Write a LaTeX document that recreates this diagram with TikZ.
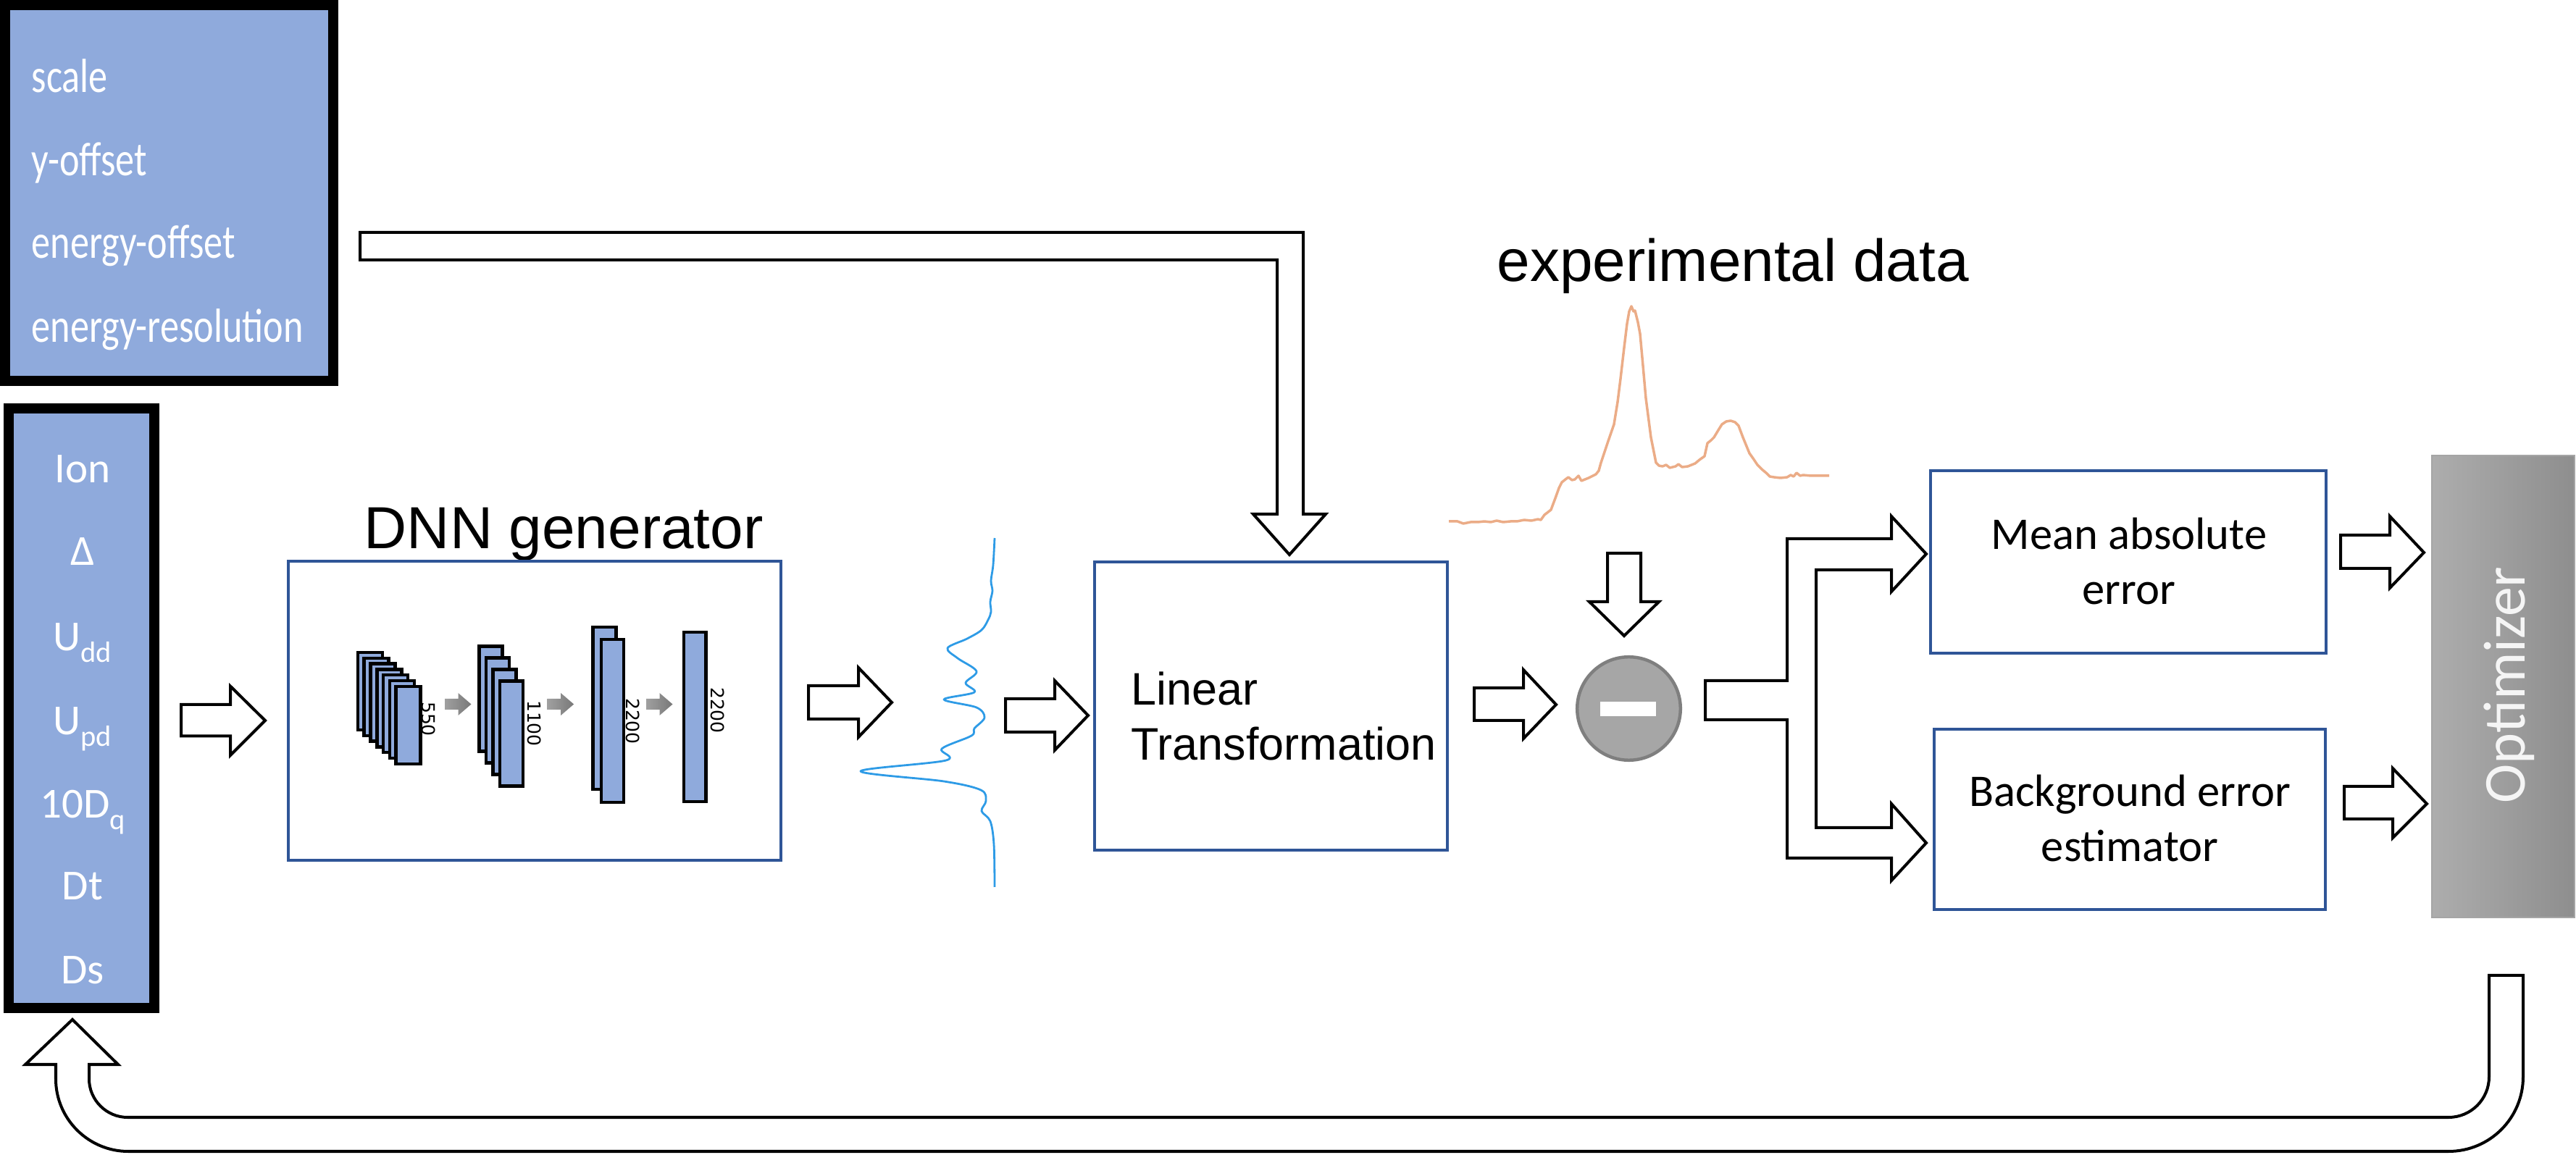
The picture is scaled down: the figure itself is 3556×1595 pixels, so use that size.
\documentclass[tikz,border=0pt]{standalone}
\usepackage{fontspec}
\usepackage{graphicx}
\setmainfont{Liberation Sans}
\newfontfamily\calib{Carlito}
\newfontfamily\dejav{DejaVu Sans}
\definecolor{boxblue}{RGB}{47,85,151}
\definecolor{layerblue}{RGB}{143,170,220}
\definecolor{paramblue}{RGB}{143,170,220}
\definecolor{specblue}{RGB}{46,155,230}
\definecolor{expor}{RGB}{235,172,135}
\definecolor{circfill}{RGB}{166,166,166}
\definecolor{circdraw}{RGB}{127,127,127}
\definecolor{optL}{RGB}{173,173,173}
\definecolor{optR}{RGB}{142,142,142}
\definecolor{optB}{RGB}{165,165,165}
\definecolor{optT}{RGB}{245,245,245}
\definecolor{garL}{RGB}{160,160,160}
\definecolor{garR}{RGB}{120,120,120}
\tikzset{
  blk/.style={draw=black, line width=0.04cm, fill=white, line join=miter},
  bluebox/.style={draw=boxblue, line width=0.045cm, inner sep=0pt},
  layer/.style={draw=black, fill=layerblue, line width=0.045cm},
  paramtxt/.style={text=white, inner sep=0pt, anchor=base west, font=\calib\fontsize{18.8pt}{22pt}\selectfont},
  leftxt/.style={text=white, inner sep=0pt, anchor=base, font=\calib\fontsize{16.8pt}{20pt}\selectfont},
  boxtxt/.style={inner sep=0pt, align=center, font=\calib\fontsize{17.8pt}{21.6pt}\selectfont},
  bigtxt/.style={inner sep=0pt, anchor=base west, font=\fontsize{23.3pt}{28pt}\selectfont},
  lintxt/.style={inner sep=0pt, anchor=base west, font=\fontsize{17.9pt}{21.6pt}\selectfont},
  laytxt/.style={inner sep=0pt, anchor=base, rotate=-90, font=\dejav\fontsize{7.1pt}{8pt}\selectfont},
  grayarrow/.style={left color=garL, right color=garR, draw=none},
}
\newcommand{\subtx}[1]{\raisebox{-0.55ex}{\fontsize{11.5pt}{12pt}\selectfont #1}}
\begin{document}
\begin{tikzpicture}[x=0.01cm,y=-0.01cm]
\useasboundingbox (0,0) rectangle (3556,1595);

% ---------- top parameter box ----------
\node[draw=black, line width=0.14cm, fill=paramblue, minimum width=4.53cm, minimum height=5.19cm, inner sep=0pt] (pbox) at (233.5,266.5) {};
\node[paramtxt] (pscale) at (43,127.5) {\scalebox{0.79}[1]{scale}};
\node[paramtxt] (pyoff) at (43,243) {\scalebox{0.79}[1]{y-offset}};
\node[paramtxt] (peoff) at (43,357) {\scalebox{0.79}[1]{energy-offset}};
\node[paramtxt] (peres) at (43,473) {\scalebox{0.79}[1]{energy-resolution}};

% ---------- left parameter box ----------
\node[draw=black, line width=0.14cm, fill=paramblue, minimum width=2.01cm, minimum height=8.28cm, inner sep=0pt] (lbox) at (112.5,978) {};
\node[leftxt] (lion) at (114,667) {Ion};
\node[leftxt] (ldel) at (114,781) {Δ};
\node[leftxt] (ludd) at (114,899) {U\subtx{dd}};
\node[leftxt] (lupd) at (114,1015) {U\subtx{pd}};
\node[leftxt] (ldq) at (114,1130) {10D\subtx{q}};
\node[leftxt] (ldt) at (114,1243) {Dt};
\node[leftxt] (lds) at (114,1359) {Ds};

% ---------- DNN generator ----------
\node[bigtxt] (dnntitle) at (502,758) {DNN generator};
\node[bluebox, minimum width=6.8cm, minimum height=4.13cm] (dnn) at (738,981.5) {};
\foreach \i in {0,...,6} \draw[layer] ({493.9+8.8*\i},{901+7.8*\i}) rectangle ++(34,107);
\foreach \i in {0,...,3} \draw[layer] ({661.4+9.5*\i},{892.7+16*\i}) rectangle ++(32,145);
\draw[layer] (818.5,866) rectangle (850.6,1090);
\draw[layer] (830,883) rectangle (861,1108);
\draw[layer] (943.8,873) rectangle (974.6,1107);
\node[laytxt] (l550) at (582,993) {550};
\node[laytxt] (l1100) at (728,999) {1100};
\node[laytxt] (l2200a) at (864,996) {2200};
\node[laytxt] (l2200b) at (981.5,981) {2200};
\foreach \x in {614,755.6,892} \shade[grayarrow] (\x,965) -- ++(18.5,0) -- ++(0,-8) -- ++(18,15.5) -- ++(-18,15.5) -- ++(0,-8) -- ++(-18.5,0) -- cycle;

% ---------- generated spectrum ----------
\draw[specblue, line width=0.028cm, line join=round] plot[smooth, tension=0.55] coordinates {
(1373,743) (1371,780) (1368,802) (1370,816) (1367,831) (1368,845) (1364,856) (1355,870)
(1335,882) (1308,895) (1322,909) (1348,927) (1333,943) (1345,956) (1303,966) (1348,977)
(1359,991) (1345,1006) (1341,1016) (1300,1034) (1306,1050) (1188,1065) (1303,1079)
(1354,1091) (1361,1106) (1355,1120) (1367,1134) (1372,1166) (1373,1225)};

% ---------- Linear transformation ----------
\node[bluebox, minimum width=4.87cm, minimum height=3.98cm] (lin) at (1754.5,975) {};
\node[lintxt] (lin1) at (1561,973.6) {Linear};
\node[lintxt] (lin2) at (1561,1050) {Transformation};

% ---------- experimental data ----------
\node[bigtxt] (exptitle) at (2066,389) {experimental data};
\draw[expor, line width=0.035cm, line join=round] plot coordinates {
(2000,720) (2012,720) (2020,723) (2030,721) (2040,721) (2049,720) (2058,721) (2066,719) (2075,721)
(2085,720) (2094,720) (2104,718) (2114,719) (2123,717) (2127,718) (2132,711) (2141,704)
(2147,688) (2152,674) (2156,666) (2161,662) (2165,659) (2170,663) (2174,662) (2179,657)
(2183,664) (2193,660) (2203,655) (2207,650) (2210,639) (2219,612) (2228,586) (2233,555)
(2237,523) (2242,480) (2246,447) (2249,430) (2252,423) (2255,430) (2257,429) (2261,445)
(2264,461) (2268,505) (2272,550) (2279,604) (2286,639) (2290,643) (2295,644) (2300,642)
(2305,646) (2313,644) (2317,641) (2322,645) (2330,644) (2340,640) (2346,635) (2353,630)
(2357,612) (2362,608) (2366,604) (2372,594) (2377,586) (2383,582) (2389,581) (2395,583)
(2400,588) (2406,604) (2415,626) (2420,633) (2426,642) (2432,648) (2438,653) (2443,658)
(2449,659) (2458,660) (2467,659) (2472,656) (2476,658) (2480,653) (2485,657) (2489,656)
(2500,657) (2525,657)};

% ---------- subtraction ----------
\node[circle, fill=circfill, draw=circdraw, line width=0.045cm, minimum size=1.425cm, inner sep=0pt] (minus) at (2248.5,978.5) {};
\fill[white] (2209,969) rectangle (2286,989);

% ---------- error boxes ----------
\node[bluebox, minimum width=5.46cm, minimum height=2.515cm] (mae) at (2938,776) {};
\node[boxtxt] (maetxt) at (2939,775) {Mean absolute\\error};
\node[bluebox, minimum width=5.394cm, minimum height=2.49cm] (bge) at (2940,1131.5) {};
\node[boxtxt] (bgetxt) at (2940,1130) {Background error\\estimator};

% ---------- optimizer ----------
\shade[left color=optL, right color=optR] (3357,629) rectangle (3554,1267);
\draw[optB, line width=0.02cm] (3357,629) rectangle (3554,1267);
\node[inner sep=0pt, anchor=base, rotate=90, text=optT, font=\calib\fontsize{23.3pt}{28pt}\selectfont] (opt) at (3485,946) {Optimizer};
\coordinate (optbox) at (3455,948);

% ---------- block arrows ----------
\draw[blk] (250,973) -- (318,973) -- (318,947.6) -- (366,995) -- (318,1043) -- (318,1016.5) -- (250,1016.5) -- cycle;
\draw[blk] (1116,947) -- (1185,947) -- (1185,922) -- (1231,970) -- (1185,1018) -- (1185,993) -- (1116,993) -- cycle;
\draw[blk] (1388,965) -- (1456,965) -- (1456,940) -- (1502,988) -- (1456,1036) -- (1456,1011) -- (1388,1011) -- cycle;
\draw[blk] (2035,950) -- (2103,950) -- (2103,925) -- (2148,973) -- (2103,1020) -- (2103,995) -- (2035,995) -- cycle;
\draw[blk] (2219,764) -- (2265,764) -- (2265,831) -- (2290,831) -- (2242,878) -- (2194,831) -- (2219,831) -- cycle;
\draw[blk] (3231,739) -- (3299,739) -- (3299,713) -- (3346,763) -- (3299,812) -- (3299,785) -- (3231,785) -- cycle;
\draw[blk] (3236,1086) -- (3303,1086) -- (3303,1061) -- (3350,1110) -- (3303,1157) -- (3303,1131) -- (3236,1131) -- cycle;
% top bent arrow (parameters -> linear transformation)
\draw[blk] (497,321) -- (1799,321) -- (1799,710) -- (1830,710) -- (1780,766) -- (1730,710) -- (1763,710) -- (1763,359) -- (497,359) -- cycle;
% split arrow (minus -> error boxes)
\draw[blk] (2354,940) -- (2467,940) -- (2467,744) -- (2611,744) -- (2611,713) -- (2659,765) -- (2611,817) -- (2611,787) -- (2507,787) -- (2507,1143) -- (2611,1143) -- (2611,1110) -- (2659,1164) -- (2611,1216) -- (2611,1185) -- (2467,1185) -- (2467,994) -- (2354,994) -- cycle;
% feedback U arrow (optimizer -> parameters)
\draw[blk] (100,1408) -- (163,1470) -- (123,1470) -- (123,1490)
  .. controls (123,1519) and (147,1543) .. (176,1543) -- (3380,1543)
  .. controls (3411,1543) and (3436,1518) .. (3436,1487) -- (3436,1347) -- (3483,1347) -- (3483,1487)
  .. controls (3483,1544) and (3437,1590) .. (3380,1590) -- (177,1590)
  .. controls (122,1590) and (77,1545) .. (77,1490) -- (77,1470) -- (35,1470) -- cycle;
\end{tikzpicture}
\end{document}
